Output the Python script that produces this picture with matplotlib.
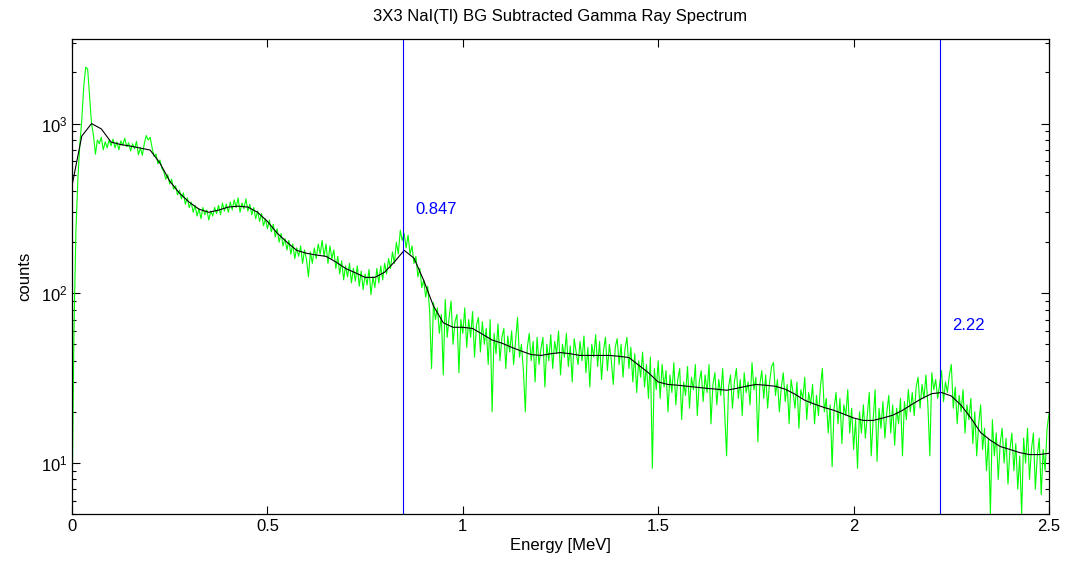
import numpy as np
import matplotlib
matplotlib.use("Agg")
import matplotlib.pyplot as plt
from matplotlib.ticker import LogLocator, NullFormatter, MultipleLocator

plt.rcParams["font.family"] = ["Liberation Sans", "DejaVu Sans"]

SAVE_PATH = "out.png"

# channel energies for the raw spectrum (MeV)
E_STEP = 0.005
N_CH = 501

# background-subtracted counts, one value per channel
counts = [
    5, 60, 230, 470, 750, 1050, 1650, 2150, 2100, 1450, 1000, 850, 660, 800, 760, 830, 700, 780, 720, 800, 740,
    810, 720, 780, 700, 790, 745, 820, 730, 770, 690, 760, 710, 785, 655, 720, 650, 760, 850, 800, 830,
    720, 640, 660, 580, 610, 545, 520, 470, 500, 440, 470, 410, 430, 380, 405, 360, 390, 335, 365, 320,
    345, 300, 330, 285, 315, 275, 320, 290, 310, 270, 305, 285, 320, 295, 330, 290, 340, 305, 335, 300,
    345, 310, 355, 320, 365, 300, 340, 315, 360, 305, 335, 290, 320, 275, 305, 265, 295, 250, 275, 240,
    270, 230, 255, 215, 240, 200, 225, 190, 210, 180, 205, 170, 195, 160, 185, 165, 190, 150, 180, 158,
    125, 175, 150, 185, 160, 195, 170, 205, 165, 195, 150, 190, 160, 180, 140, 165, 130, 155, 120, 145,
    125, 150, 115, 140, 118, 145, 110, 135, 105, 130, 112, 138, 98, 125, 108, 140, 115, 145, 120, 150,
    130, 160, 140, 175, 150, 200, 170, 235, 205, 225, 185, 220, 170, 190, 150, 165, 125, 140, 108, 120,
    95, 110, 80, 36, 88, 70, 82, 58, 75, 33, 92, 55, 72, 90, 50, 68, 75, 34, 70, 58,
    82, 48, 70, 55, 78, 42, 65, 72, 45, 68, 50, 62, 38, 70, 20, 58, 44, 66, 40, 55,
    62, 36, 56, 45, 60, 38, 52, 72, 42, 50, 35, 20, 48, 58, 40, 52, 30, 55, 38, 47,
    55, 28, 50, 40, 57, 36, 52, 44, 60, 33, 50, 42, 58, 37, 49, 30, 54, 45, 38, 52,
    40, 56, 34, 48, 28, 50, 42, 57, 37, 52, 31, 46, 55, 35, 50, 40, 29, 48, 54, 38,
    50, 32, 47, 55, 36, 48, 30, 44, 26, 40, 32, 45, 28, 38, 24, 42, 9.3, 36, 27, 40,
    24, 38, 28, 35, 20, 33, 26, 39, 22, 31, 36, 18, 30, 25, 37, 21, 32, 27, 38, 19,
    30, 35, 23, 33, 26, 38, 17, 29, 34, 22, 31, 25, 36, 20, 11, 28, 33, 21, 30, 36,
    24, 31, 19, 34, 26, 30, 22, 39, 27, 32, 13.3, 29, 35, 24, 33, 21, 30, 37, 39, 25,
    31, 20, 28, 34, 23, 29, 17, 31, 26, 21, 30, 16, 27, 24, 32, 18, 26, 22, 29, 17,
    25, 19, 28, 36, 20, 24, 15, 22, 9.5, 21, 26, 17, 24, 13, 22, 19, 27, 15, 21, 12,
    18, 9.3, 20, 15, 22, 14, 19, 26, 11, 18, 27, 10.2, 21, 16, 23, 14, 20, 25, 15, 22,
    12.7, 21, 17, 24, 11, 23, 18, 27, 20, 26, 19, 28, 32, 21, 29, 24, 33, 22, 11, 34,
    27, 31, 24, 29, 35, 23, 30, 26, 33, 38, 21, 28, 17, 25, 20, 27, 15, 22, 18, 24,
    13, 20, 11, 17, 22, 12, 16, 9, 14, 5, 18, 11, 15, 8, 13, 16, 10, 14, 7.5, 12,
    15, 9, 13, 7, 11, 5, 14, 10, 16, 8, 12, 15, 7, 11, 14, 6.5, 12, 9, 16, 19.5,
]

# smoothed spectrum, sampled every 0.025 MeV
smooth_step = 0.025
smooth = [
    430, 843, 1000, 930, 778, 752, 736, 717, 698, 585, 458, 389, 344, 313, 300, 309, 322, 326, 322, 300,
    265, 226, 200, 179, 172, 168, 165, 153, 140, 132, 124, 124, 133, 153, 179, 161, 119, 84, 67, 63,
    63, 62, 57.4, 53, 50.8, 48, 45.6, 43.5, 43, 44, 44.7, 44, 43, 43, 43, 43, 42.5, 41.8, 37.7, 34,
    30, 29, 28.7, 28.3, 27.9, 27.5, 27.2, 26.8, 27.5, 28.3, 29, 28.7, 28.3, 27.2, 25.4, 23.4, 22.2, 21.2, 20.4, 19.4,
    18.4, 17.8, 17.8, 18.4, 19.1, 20.4, 22.2, 24, 25.6, 26, 24.8, 21.9, 18.4, 15.1, 13.6, 12.5, 12, 11.5, 11.2, 11.2,
    11.4,
]

# identified lines (MeV) and their labels
peak_energies = [0.847, 2.22]
peak_labels = ["0.847", "2.22"]
label_pos_y = [313, 64.7]
label_offset = 0.031


def main():
    energy = np.arange(N_CH) * E_STEP
    smooth_e = np.arange(len(smooth)) * smooth_step

    fig = plt.figure(figsize=(10.65, 5.62), dpi=100)
    ax = fig.add_axes([0.0676, 0.0854, 0.9174, 0.8452])

    ax.plot(energy, counts, color="#00ff00", lw=0.8)
    ax.plot(smooth_e, smooth, color="black", lw=0.8)

    for e, lab, ly in zip(peak_energies, peak_labels, label_pos_y):
        ax.axvline(e, color="#0000ff", lw=0.8)
        ax.text(e + label_offset, ly, lab, color="#0000ff", fontsize=12,
                va="center", ha="left")

    ax.set_yscale("log")
    ax.set_xlim(0, 2.5)
    ax.set_ylim(5, 3150)
    ax.xaxis.set_major_locator(MultipleLocator(0.5))
    ax.xaxis.set_major_formatter(plt.FuncFormatter(lambda v, p: f"{v:g}"))
    ax.yaxis.set_major_locator(LogLocator(base=10, numticks=10))
    ax.yaxis.set_minor_locator(LogLocator(base=10, subs=np.arange(2, 10), numticks=10))
    ax.yaxis.set_minor_formatter(NullFormatter())

    ax.tick_params(which="both", direction="in", top=True, right=True,
                   labelsize=12, width=0.8)
    ax.tick_params(which="major", length=6)
    ax.tick_params(which="minor", length=3)
    for sp in ax.spines.values():
        sp.set_linewidth(0.9)

    ax.set_xlabel("Energy [MeV]", fontsize=12, labelpad=3)
    ax.set_ylabel("counts", fontsize=12, labelpad=6)
    ax.set_title("3X3 NaI(Tl) BG Subtracted Gamma Ray Spectrum", fontsize=12, pad=13)

    fig.savefig(SAVE_PATH, dpi=100)


if __name__ == "__main__":
    main()
